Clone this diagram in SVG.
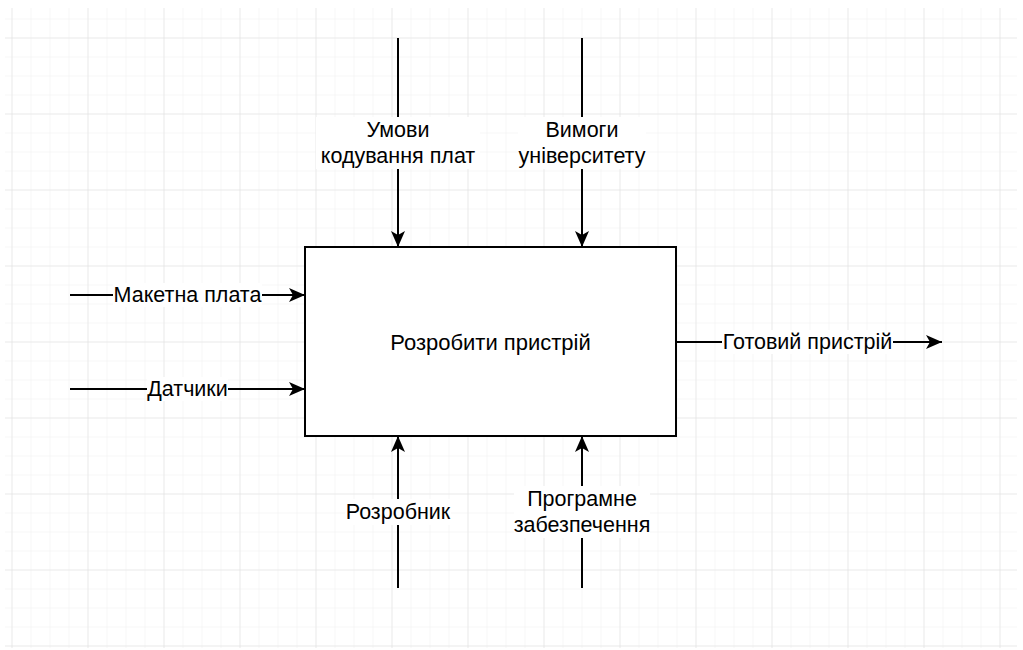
<svg xmlns="http://www.w3.org/2000/svg" width="1023" height="650" viewBox="0 0 1023 650">
<defs>
<pattern id="minor" x="11.5" y="37.5" width="19" height="19" patternUnits="userSpaceOnUse">
<path d="M0 0H19M0 0V19" fill="none" stroke="#f0f0f0" stroke-width="1"/>
</pattern>
<pattern id="major" x="11.5" y="37.5" width="76" height="76" patternUnits="userSpaceOnUse">
<path d="M0 0H76M0 0V76" fill="none" stroke="#e0e0e0" stroke-width="1"/>
</pattern>
<marker id="arr" viewBox="0 0 16 14" refX="16" refY="7" markerWidth="16" markerHeight="14" markerUnits="userSpaceOnUse" orient="auto">
<path d="M0 0L16 7L0 14L4 7Z" fill="#000"/>
</marker>
</defs>
<style>
.lbl{font-family:"Liberation Sans",Arial,sans-serif;font-size:21.5px;fill:#000;text-anchor:middle;dominant-baseline:central}
.edge{fill:none;stroke:#000;stroke-width:2;marker-end:url(#arr)}
.bg{fill:#fff}
</style>
<rect width="1023" height="650" fill="#fff"/>
<rect x="5" y="8" width="1012" height="640" fill="url(#minor)"/>
<rect x="5" y="8" width="1012" height="640" fill="url(#major)"/>
<g id="connectors">
<path class="edge" d="M398 38V247"/>
<path class="edge" d="M582 38V247"/>
<path class="edge" d="M398 588V436"/>
<path class="edge" d="M582 588V436"/>
<path class="edge" d="M70 295H305"/>
<path class="edge" d="M70 389H305"/>
<path class="edge" d="M676 342H942"/>
<rect class="bg" x="316" y="117" width="164" height="52"/>
<text class="lbl" x="398" y="130">Умови</text>
<text class="lbl" x="398" y="156">кодування плат</text>
<rect class="bg" x="518" y="117" width="128" height="52"/>
<text class="lbl" x="582" y="130">Вимоги</text>
<text class="lbl" x="582" y="156">університету</text>
<rect class="bg" x="345" y="499" width="106" height="26"/>
<text class="lbl" x="398" y="512">Розробник</text>
<rect class="bg" x="514" y="486" width="136" height="52"/>
<text class="lbl" x="582" y="499">Програмне</text>
<text class="lbl" x="582" y="525">забезпечення</text>
<rect class="bg" x="113" y="283" width="149" height="24"/>
<text class="lbl" x="187.5" y="295">Макетна плата</text>
<rect class="bg" x="147" y="377" width="81" height="24"/>
<text class="lbl" x="187.5" y="389">Датчики</text>
<rect class="bg" x="722" y="330" width="171" height="24"/>
<text class="lbl" x="807.5" y="342">Готовий пристрій</text>
</g>
<g id="node-main">
<rect x="305" y="247" width="371" height="189" fill="#fff" stroke="#000" stroke-width="2"/>
<text class="lbl" x="490.5" y="342" style="font-size:22px">Розробити пристрій</text>
</g>
</svg>
